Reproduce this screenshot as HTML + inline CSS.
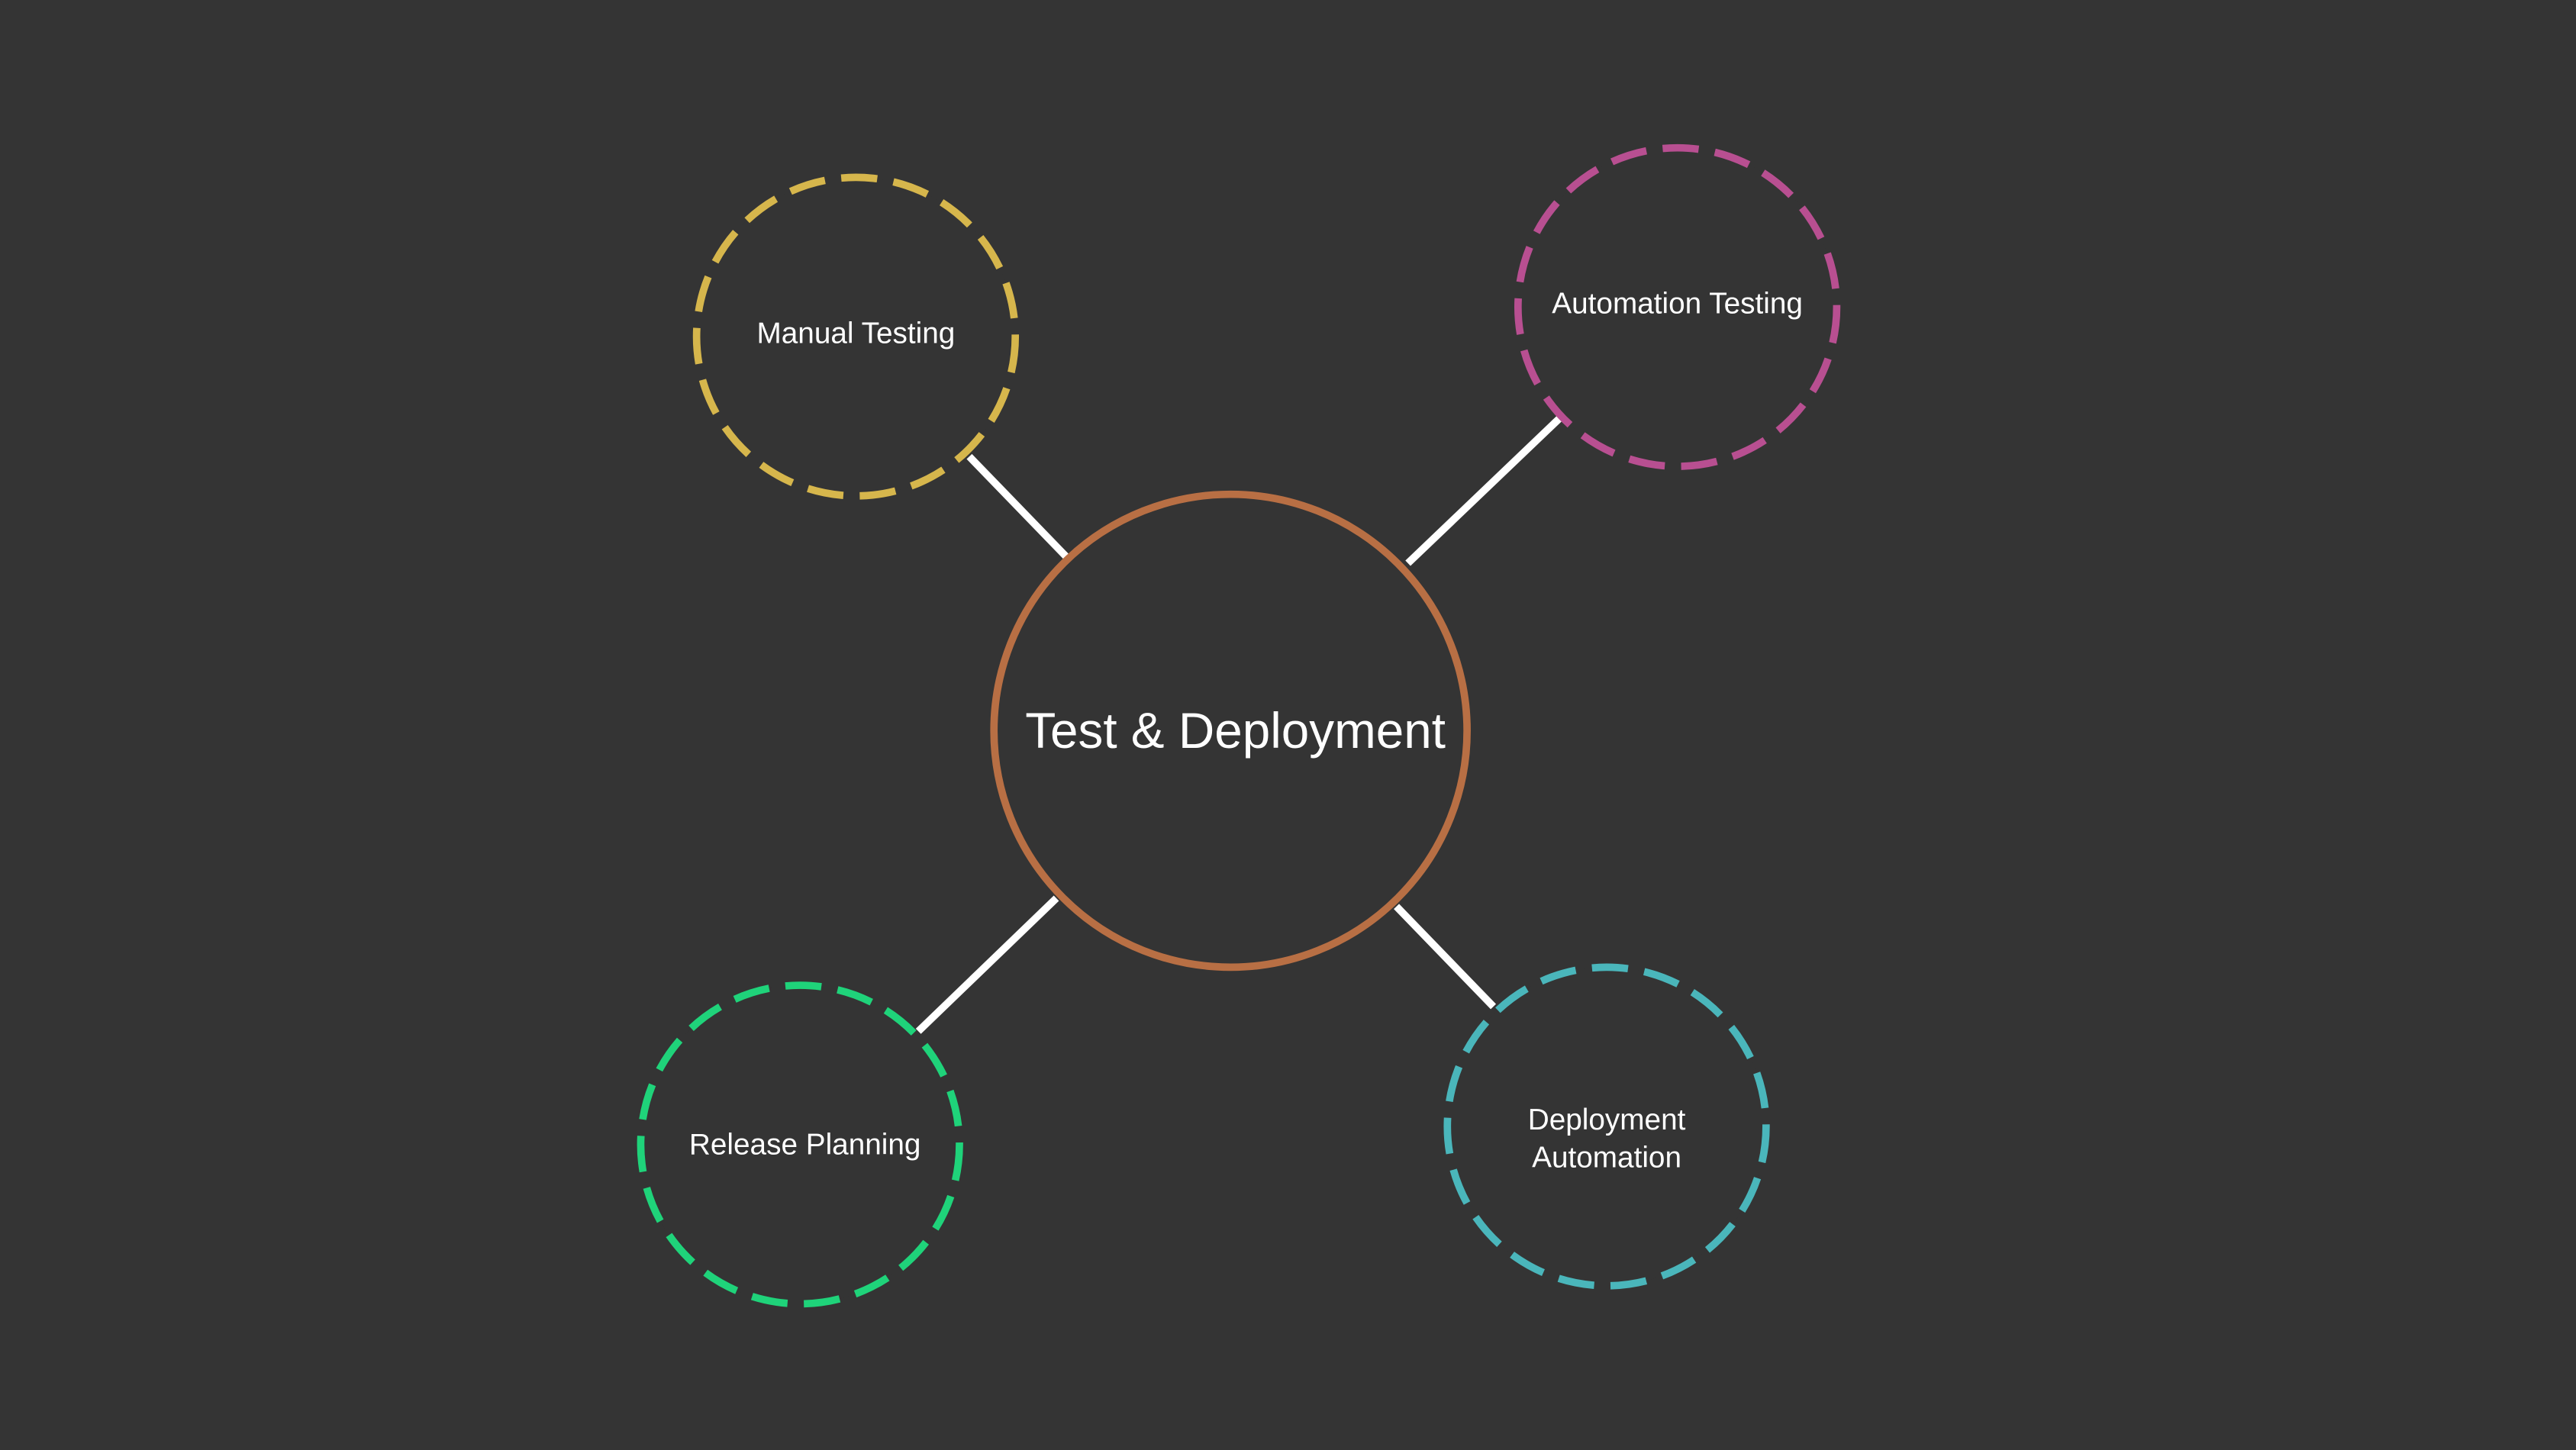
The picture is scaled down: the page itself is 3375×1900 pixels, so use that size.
<!DOCTYPE html>
<html><head><meta charset="utf-8"><style>
html,body{margin:0;padding:0;background:#343434;}
svg{display:block}
text{font-family:"Liberation Sans",sans-serif;fill:#ffffff;text-anchor:middle;dominant-baseline:central}
</style></head><body>
<svg width="3375" height="1900" viewBox="0 0 1568 883" preserveAspectRatio="none" xmlns="http://www.w3.org/2000/svg">
<rect width="1568" height="883" fill="#343434"/>
<g stroke="#ffffff" stroke-width="4.5" stroke-linecap="butt">
<line x1="590" y1="278" x2="649" y2="339"/>
<line x1="857" y1="343" x2="949" y2="255"/>
<line x1="643" y1="547" x2="559" y2="628"/>
<line x1="850" y1="552" x2="909" y2="613"/>
</g>
<circle cx="749" cy="445" r="144" fill="#343434" stroke="#b86f44" stroke-width="4.5"/>
<g fill="#343434" stroke-width="4.5" stroke-dasharray="22 10">
<circle cx="521" cy="205" r="97" stroke="#d6b64c"/>
<circle cx="1021" cy="187" r="97" stroke="#b84f91"/>
<circle cx="487" cy="697" r="97" stroke="#1fd37a"/>
<circle cx="978" cy="686" r="97" stroke="#4ab6bb"/>
</g>
<text x="752" y="445" font-size="30.5">Test &amp; Deployment</text>
<text x="521" y="203" font-size="18">Manual Testing</text>
<text x="1021" y="185" font-size="18">Automation Testing</text>
<text x="490" y="697" font-size="18">Release Planning</text>
<text x="978" y="682" font-size="18">Deployment</text>
<text x="978" y="705" font-size="18">Automation</text>
</svg>
</body></html>
